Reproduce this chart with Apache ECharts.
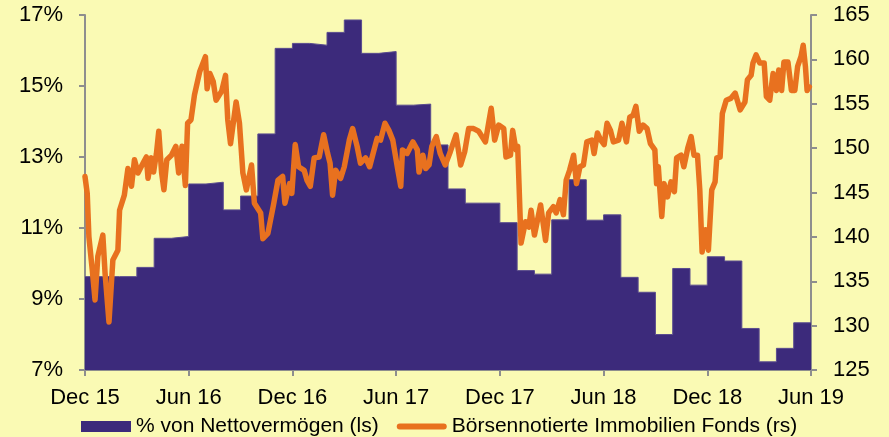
<!DOCTYPE html>
<html>
<head>
<meta charset="utf-8">
<script src="https://cdn.jsdelivr.net/npm/echarts@6/dist/echarts.min.js"></script>
<style>
html,body{margin:0;padding:0;background:#FAFAB4;}
#chart{width:889px;height:437px;}
</style>
</head>
<body>
<div id="chart"></div>
<script>
// x-axis tick labels (every 6 months, starting Dec 2015)
const tickLabels = ['Dec 15','Jun 16','Dec 16','Jun 17','Dec 17','Jun 18','Dec 18','Jun 19'];

// Monthly share of net assets (%), Dec 2015 .. May 2019
const barValues = [9.63,9.63,9.63,9.89,10.71,10.76,12.24,12.29,11.51,11.90,
  13.65,16.06,16.20,16.15,16.51,16.86,15.92,15.97,14.46,14.49,
  13.34,12.10,11.70,11.70,11.15,9.80,9.70,11.23,12.36,11.22,
  11.37,9.61,9.19,8.00,9.86,9.39,10.19,10.07,8.17,7.23,
  7.61,8.33];

// Listed real estate funds index (rs)
const lineDates = ['2015-12-01','2015-12-05','2015-12-08','2015-12-14','2015-12-19','2015-12-24',
'2016-01-02','2016-01-06','2016-01-13','2016-01-20','2016-01-29','2016-02-01','2016-02-09','2016-02-15',
'2016-02-21','2016-02-26','2016-03-03','2016-03-12','2016-03-18','2016-03-21','2016-03-27','2016-03-31',
'2016-04-05','2016-04-09','2016-04-14','2016-04-18','2016-04-23','2016-05-01','2016-05-09','2016-05-14',
'2016-05-20','2016-05-26','2016-05-30','2016-06-05','2016-06-11','2016-06-20','2016-06-30','2016-07-03',
'2016-07-08','2016-07-14','2016-07-19','2016-07-29','2016-08-05','2016-08-09','2016-08-14','2016-08-24',
'2016-08-30','2016-09-05','2016-09-11','2016-09-20','2016-09-25','2016-10-06','2016-10-10','2016-10-19',
'2016-10-29','2016-11-06','2016-11-14','2016-11-18','2016-11-26','2016-11-30','2016-12-06','2016-12-12',
'2016-12-22','2016-12-27','2017-01-02','2017-01-09','2017-01-18','2017-01-26','2017-02-02','2017-02-06',
'2017-02-10','2017-02-15','2017-02-23','2017-03-01','2017-03-10','2017-03-16','2017-03-24','2017-03-30',
'2017-04-08','2017-04-15','2017-04-21','2017-04-28','2017-05-04','2017-05-12','2017-05-19','2017-05-26',
'2017-06-03','2017-06-09','2017-06-12','2017-06-20','2017-06-30','2017-07-08','2017-07-11','2017-07-18',
'2017-07-23','2017-07-29','2017-08-03','2017-08-11','2017-08-18','2017-08-27','2017-09-05','2017-09-15',
'2017-09-23','2017-09-30','2017-10-07','2017-10-16','2017-10-25','2017-11-06','2017-11-12','2017-11-16',
'2017-11-22','2017-11-29','2017-12-08','2017-12-12','2017-12-20','2017-12-24','2017-12-30','2018-01-02',
'2018-01-08','2018-01-16','2018-01-22','2018-01-26','2018-02-01','2018-02-11','2018-02-19','2018-02-24',
'2018-03-04','2018-03-09','2018-03-16','2018-03-22','2018-03-27','2018-04-02','2018-04-09','2018-04-14',
'2018-04-20','2018-04-26','2018-05-02','2018-05-11','2018-05-15','2018-05-21','2018-05-27','2018-06-02',
'2018-06-07','2018-06-13','2018-06-18','2018-06-27','2018-07-03','2018-07-11','2018-07-17','2018-07-23',
'2018-07-28','2018-08-03','2018-08-10','2018-08-17','2018-08-23','2018-08-31','2018-09-03','2018-09-06',
'2018-09-12','2018-09-16','2018-09-22','2018-09-28','2018-10-04','2018-10-08','2018-10-16','2018-10-21',
'2018-10-28','2018-11-03','2018-11-08','2018-11-14','2018-11-18','2018-11-22','2018-11-28','2018-12-03',
'2018-12-09','2018-12-15','2018-12-18','2018-12-24','2018-12-28','2019-01-04','2019-01-12','2019-01-20',
'2019-01-29','2019-02-06','2019-02-10','2019-02-16','2019-02-19','2019-02-24','2019-03-02','2019-03-10',
'2019-03-14','2019-03-20','2019-03-26','2019-04-01','2019-04-05','2019-04-10','2019-04-14','2019-04-21',
'2019-04-27','2019-05-03','2019-05-08','2019-05-14','2019-05-18','2019-05-22','2019-05-25','2019-05-29'];
const lineValues = [146.8,144.9,140.0,136.3,132.9,137.8,
140.2,135.9,130.4,137.4,138.5,143.0,144.7,147.7,
145.7,148.7,147.2,148.3,149.0,146.6,148.9,147.3,
149.4,151.9,147.2,145.3,148.7,149.2,150.2,147.2,
150.2,145.8,152.8,153.2,156.0,158.6,160.3,156.7,
158.4,157.5,155.4,156.4,158.2,153.2,150.5,155.2,
152.8,147.2,145.3,148.1,143.8,142.7,139.8,140.4,
143.6,146.4,146.8,143.8,146.0,144.9,150.4,147.9,
147.5,146.4,145.7,148.9,149.0,151.5,149.4,148.3,
144.7,147.5,146.6,147.9,150.9,152.2,150.2,148.3,
148.9,147.9,149.4,151.1,150.9,152.8,152.0,150.9,
147.9,145.7,149.8,149.4,150.7,149.8,147.3,149.2,
147.7,148.1,150.2,151.3,149.4,148.1,149.6,151.5,
148.1,149.6,152.2,152.2,151.9,150.7,153.0,154.5,
150.9,152.6,152.2,149.0,149.2,152.0,149.8,150.2,
139.3,141.7,141.1,143.0,140.2,143.6,139.6,142.7,
143.4,142.7,144.2,142.5,146.4,147.5,149.2,146.0,
147.9,148.1,150.7,150.9,149.4,151.7,150.9,150.4,
152.8,152.0,150.7,150.9,152.8,150.7,153.5,153.7,
154.7,151.9,152.6,152.2,150.5,149.8,146.0,147.9,
142.3,146.0,144.5,146.2,145.1,148.9,149.2,147.9,
150.0,151.3,149.2,149.2,145.3,138.3,140.8,138.5,
145.3,146.2,148.9,149.0,153.9,155.4,155.6,156.2,
154.3,155.2,157.7,158.2,159.6,160.5,159.6,159.6,
155.8,155.4,158.4,156.5,158.8,156.5,159.7,159.7,
156.5,156.5,159.2,160.3,161.6,159.2,156.5,156.9];

const seriesNames = ['% von Nettovermögen (ls)', 'Börsennotierte Immobilien Fonds (rs)'];

// months since Dec 2015 (fractional)
function monthPos(s){
  const p = s.split('-').map(Number);
  const dim = new Date(p[0], p[1], 0).getDate();
  return (p[0]-2015)*12 + (p[1]-12) + (p[2]-1)/dim;
}
const barData = barValues.map((v,i)=>[i, v]);
barData.push([barValues.length, barValues[barValues.length-1]]);
const lineData = lineDates.map((d,i)=>[monthPos(d), lineValues[i]]);

const FONT = 'Arial, "Liberation Sans", sans-serif';
const axisGrey = '#8e8e8e';
const chart = echarts.init(document.getElementById('chart'), null, {renderer:'canvas'});
chart.setOption({
  backgroundColor: '#FAFAB4',
  animation: false,
  textStyle: {fontFamily: FONT},
  grid: {left: 85, right: 78, top: 15, bottom: 67, containLabel: false},
  legend: {
    left: 76, top: 411,
    itemWidth: 50, itemHeight: 11, itemGap: 18,
    textStyle: {fontSize: 21, color: '#000', fontFamily: FONT},
    data: [
      {name: seriesNames[0], icon: 'rect'},
      {name: seriesNames[1], icon: 'path://M3,0 L47,0 A3,3 0 0 1 47,6 L3,6 A3,3 0 0 1 3,0 Z', itemStyle: {color: '#E8711F'}}
    ]
  },
  xAxis: {
    type: 'value', min: 0, max: 42, interval: 6,
    axisLine: {show: true, lineStyle: {color: axisGrey, width: 2}},
    axisTick: {show: true, length: 6, lineStyle: {color: axisGrey, width: 2}},
    splitLine: {show: false},
    axisLabel: {
      fontSize: 22, color: '#000', margin: 17, fontFamily: FONT,
      formatter: v => tickLabels[Math.round(v/6)] || ''
    }
  },
  yAxis: [
    {
      type: 'value', min: 7, max: 17, interval: 2, position: 'left',
      axisLine: {show: true, lineStyle: {color: axisGrey, width: 2}},
      axisTick: {show: true, length: 6, lineStyle: {color: axisGrey, width: 2}},
      splitLine: {show: false},
      axisLabel: {fontSize: 22, color: '#000', margin: 22, fontFamily: FONT, formatter: '{value}%'}
    },
    {
      type: 'value', min: 125, max: 165, interval: 5, position: 'right',
      axisLine: {show: true, lineStyle: {color: axisGrey, width: 2}},
      axisTick: {show: true, length: 6, lineStyle: {color: axisGrey, width: 2}},
      splitLine: {show: false},
      axisLabel: {fontSize: 22, color: '#000', margin: 22, fontFamily: FONT}
    }
  ],
  series: [
    {
      name: seriesNames[0], type: 'line', yAxisIndex: 0,
      step: 'end', symbol: 'none', data: barData,
      itemStyle: {color: '#3C2A7B'},
      lineStyle: {color: '#5a4c8e', width: 1},
      areaStyle: {color: '#3C2A7B', opacity: 1, origin: 'start'},
      z: 2
    },
    {
      name: seriesNames[1], type: 'line', yAxisIndex: 1,
      symbol: 'none', data: lineData,
      itemStyle: {color: '#E8711F'},
      lineStyle: {color: '#E8711F', width: 5.5, cap: 'round', join: 'round'},
      z: 3
    }
  ]
});
</script>
</body>
</html>
